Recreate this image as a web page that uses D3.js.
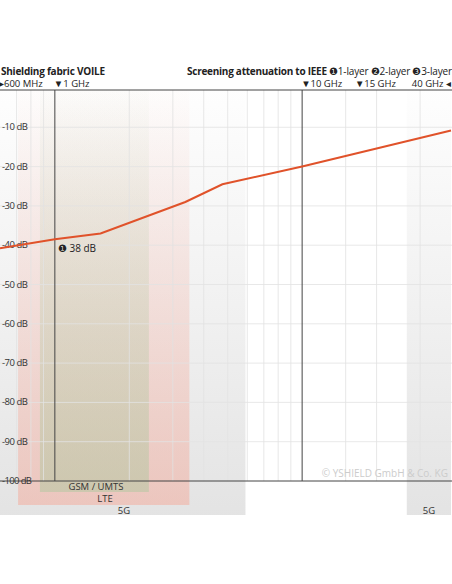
<!DOCTYPE html>
<html><head><meta charset="utf-8">
<script src="https://cdn.jsdelivr.net/npm/d3@7"></script>
<style>body{margin:0;background:#fff;font-family:"Open Sans",sans-serif}</style>
</head><body>
<script>
// attenuation curve (GHz, dB)
const freqs = [0.6, 1, 1.53, 3.37, 4.76, 10, 40];
const atten = [-40.8, -38.5, -37, -29, -24.5, -20, -10.8];
const dbTicks = [-10, -20, -30, -40, -50, -60, -70, -80, -90, -100];
const gridFreqs = [0.7, 0.8, 0.9, 2, 3, 4, 5, 6, 7, 8, 9, 15, 20, 30];
const markerFreqs = [1, 10];
const topLabels = [
  {f: 0.6, t: "\u25B8600 MHz", a: "start"},
  {f: 1, t: "\u25BC1 GHz", a: "start"},
  {f: 10, t: "\u25BC10 GHz", a: "start"},
  {f: 16.5, t: "\u25BC15 GHz", a: "start"},
  {f: 40, t: "40 GHz \u25C2", a: "end"}
];
// frequency bands: [from, to] GHz
const bands = [
  {name: "5G", f0: 0.6, f1: 5.9, color: "#c8c8c8", bottom: 515, label: 514, lx: 124},
  {name: "5G", f0: 26.5, f1: 40, color: "#c8c8c8", bottom: 515, label: 514, lx: 429},
  {name: "LTE", f0: 0.71, f1: 3.5, color: "#f4a898", bottom: 505, label: 502, lx: 105},
  {name: "GSM / UMTS", f0: 0.87, f1: 2.4, color: "#aec79e", bottom: 492, label: 490, lx: 96}
];

const W = 452, H = 584;
const svg = d3.select("body").append("svg").attr("width", W).attr("height", H);
const x = d3.scaleLog().domain([0.6, 40]).range([0, 451]);
const y = d3.scaleLinear().domain([0, -100]).range([88, 481]);

const defs = svg.append("defs");
bands.forEach((b, i) => {
  const g = defs.append("linearGradient").attr("id", "g" + i)
    .attr("x1", 0).attr("y1", 0).attr("x2", 0).attr("y2", 1);
  g.append("stop").attr("offset", "0%").attr("stop-color", b.color).attr("stop-opacity", 0.02);
  g.append("stop").attr("offset", "60%").attr("stop-color", b.color).attr("stop-opacity", 0.3);
  g.append("stop").attr("offset", "100%").attr("stop-color", b.color).attr("stop-opacity", 0.5);
});
svg.selectAll("rect.band").data(bands).enter().append("rect")
  .attr("x", d => x(d.f0)).attr("width", d => x(d.f1) - x(d.f0))
  .attr("y", 90).attr("height", d => d.bottom - 90)
  .attr("fill", (d, i) => `url(#g${i})`);
svg.selectAll("text.band").data(bands).enter().append("text")
  .attr("x", d => d.lx)
  .attr("y", d => d.label).attr("text-anchor", "middle")
  .style("font-size", "9.5px").attr("fill", "#333").text(d => d.name);

// grid
svg.selectAll("line.vg").data(gridFreqs).enter().append("line")
  .attr("x1", d => x(d)).attr("x2", d => x(d)).attr("y1", 90).attr("y2", 481)
  .attr("stroke", "#e2e2e2").attr("stroke-width", 0.8);
svg.selectAll("line.hg").data(dbTicks.slice(0, -1)).enter().append("line")
  .attr("x1", 0).attr("x2", W).attr("y1", d => y(d)).attr("y2", d => y(d))
  .attr("stroke", "#e2e2e2").attr("stroke-width", 0.8);
svg.selectAll("line.mk").data(markerFreqs).enter().append("line")
  .attr("x1", d => x(d)).attr("x2", d => x(d)).attr("y1", 90).attr("y2", 481)
  .attr("stroke", "#444").attr("stroke-width", 1);
svg.append("line").attr("x1", 0).attr("x2", W).attr("y1", 90).attr("y2", 90).attr("stroke", "#444");
svg.append("line").attr("x1", 0).attr("x2", W).attr("y1", 481).attr("y2", 481).attr("stroke", "#444");

svg.selectAll("text.db").data(dbTicks).enter().append("text")
  .attr("x", 2).attr("y", d => y(d) + 3).style("font-size", "9.5px").attr("fill", "#333")
  .attr("textLength", d => d === -100 ? 30 : 26)
  .text(d => d + " dB");

// curve
svg.append("path").datum(freqs.map((f, i) => [f, atten[i]]))
  .attr("d", d3.line().x(d => x(d[0])).y(d => y(d[1])))
  .attr("fill", "none").attr("stroke", "#e0522a").attr("stroke-width", 2);
svg.append("text").attr("x", x(1) + 3).attr("y", y(-38.5) + 13)
  .style("font-size", "10px").attr("fill", "#222").text("\u2776 38 dB");

// header
svg.append("text").attr("x", 1).attr("y", 75).style("font-size", "10px").style("font-weight", "bold")
  .attr("fill", "#222").attr("textLength", 104).text("Shielding fabric VOILE");
svg.append("text").attr("x", 187).attr("y", 75).style("font-size", "10px").style("font-weight", "bold")
  .attr("fill", "#222").attr("textLength", 140).text("Screening attenuation to IEEE");
svg.append("text").attr("x", 329).attr("y", 75).style("font-size", "10px")
  .attr("fill", "#222").attr("textLength", 123).text("\u27761-layer \u27772-layer \u27783-layer");
svg.selectAll("text.tl").data(topLabels).enter().append("text")
  .attr("x", d => x(d.f) + (d.a === "end" ? 0 : -1)).attr("y", 87)
  .attr("text-anchor", d => d.a).style("font-size", "9.5px").attr("fill", "#222").text(d => d.t);

svg.append("text").attr("x", 448).attr("y", 477).attr("text-anchor", "end")
  .style("font-size", "10px").attr("fill", "#ccc").text("\u00A9 YSHIELD GmbH & Co. KG");
</script>
</body></html>
